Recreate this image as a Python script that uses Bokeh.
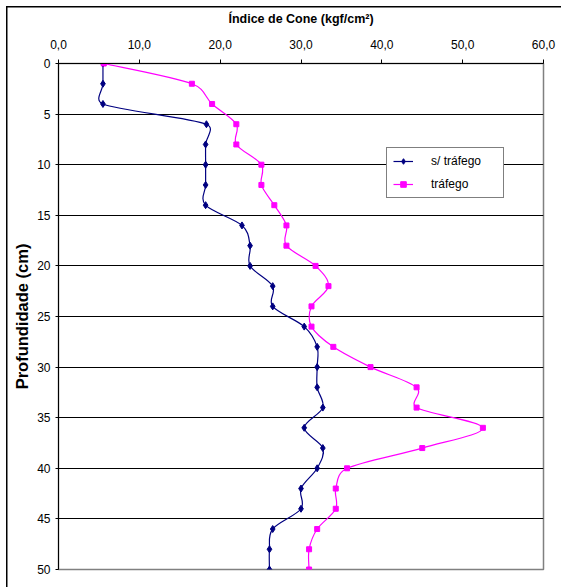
import math
from bokeh.plotting import figure
from bokeh.models import Range1d, FixedTicker, Legend, LegendItem, ColumnDataSource
from bokeh.embed import file_html
from bokeh.resources import INLINE

# ---- data ----
depth = [0, 2, 4, 6, 8, 10, 12, 14, 16, 18, 20, 22, 24, 26, 28, 30, 32, 34, 36, 38, 40, 42, 44, 46, 48, 50]
sem_trafego = [5.5, 5.5, 5.5, 18.3, 18.2, 18.2, 18.2, 18.2, 22.7, 23.7, 23.7, 26.5, 26.5, 30.4, 32.0, 32.0,
               32.0, 32.7, 30.4, 32.7, 32.0, 30.0, 30.0, 26.5, 26.1, 26.1]
trafego = [5.6, 16.5, 19.0, 22.0, 22.0, 25.1, 25.1, 26.7, 28.2, 28.2, 31.8, 33.4, 31.3, 31.3, 34.0, 38.6,
           44.3, 44.3, 52.5, 45.0, 35.7, 34.3, 34.3, 32.0, 31.0, 31.0]
x_ticks = [0, 10, 20, 30, 40, 50, 60]
x_tick_labels = ["0,0", "10,0", "20,0", "30,0", "40,0", "50,0", "60,0"]
y_ticks = [0, 5, 10, 15, 20, 25, 30, 35, 40, 45, 50]
series_names = ["s/ tráfego", "tráfego"]

FONT = "Liberation Sans"
W, H = 561, 587
FL, FR, FT, FB = 58, 543, 63, 569          # frame edges in pixels
SX = (FR - FL) / 60.0                        # px per x unit (for smoothing geometry)
SY = (FB - FT) / 50.0                        # px per y unit


def smooth_segments(xs, ys):
    """Excel-like smoothed line: cubic Bezier segments with limited tangents."""
    n = len(xs)
    px = [x * SX for x in xs]
    py = [y * SY for y in ys]
    out_c, in_c = [], []
    for i in range(n):
        a = max(i - 1, 0)
        b = min(i + 1, n - 1)
        vx, vy = px[b] - px[a], py[b] - py[a]
        d02 = math.hypot(vx, vy)
        d01 = math.hypot(px[i] - px[a], py[i] - py[a])
        d12 = math.hypot(px[b] - px[i], py[b] - py[i])
        if d02 == 0:
            out_c.append((px[i], py[i])); in_c.append((px[i], py[i])); continue
        ux, uy = vx / d02, vy / d02
        lo = min(d02 / 6.0, d12 / 2.0) if i < n - 1 else 0
        li = min(d02 / 6.0, d01 / 2.0) if i > 0 else 0
        out_c.append((px[i] + ux * lo, py[i] + uy * lo))
        in_c.append((px[i] - ux * li, py[i] - uy * li))
    out = dict(x0=[], y0=[], x1=[], y1=[], cx0=[], cy0=[], cx1=[], cy1=[])
    for i in range(n - 1):
        out["x0"].append(xs[i]); out["y0"].append(ys[i])
        out["x1"].append(xs[i + 1]); out["y1"].append(ys[i + 1])
        out["cx0"].append(out_c[i][0] / SX); out["cy0"].append(out_c[i][1] / SY)
        out["cx1"].append(in_c[i + 1][0] / SX); out["cy1"].append(in_c[i + 1][1] / SY)
    return ColumnDataSource(out)


p = figure(width=W, height=H, output_backend="svg", toolbar_location=None,
           x_range=Range1d(0, 60), y_range=Range1d(50, 0),
           x_axis_location="above",
           min_border_left=FL, min_border_right=W - FR,
           min_border_top=FT, min_border_bottom=H - FB)
p.background_fill_color = "white"
p.border_fill_alpha = 0
p.outline_line_color = "#808080"
p.outline_line_width = 1.5
# outer chart border (only its left and top edges fall inside the picture)
p.styles = {
    "background": "linear-gradient(#000, #000) 6px 6px / 1.5px 100% no-repeat, "
                  "linear-gradient(#000, #000) 6px 6px / 100% 1.5px no-repeat, #fff"
}

# axes
xa = p.xaxis[0]
xa.ticker = FixedTicker(ticks=x_ticks)
xa.major_label_overrides = {t: l for t, l in zip(x_ticks, x_tick_labels)}
xa.axis_label = "Índice de Cone (kgf/cm²)"
xa.axis_label_text_font = FONT
xa.axis_label_text_font_style = "bold"
xa.axis_label_text_font_size = "12.5px"
xa.axis_label_text_color = "black"
xa.axis_label_standoff = 11
xa.major_label_text_font = FONT
xa.major_label_text_font_size = "12px"
xa.major_label_text_color = "black"
xa.major_label_standoff = 11
xa.major_tick_in = 0
xa.major_tick_out = 4
xa.minor_tick_in = 0
xa.minor_tick_out = 0
xa.axis_line_color = "black"
xa.major_tick_line_color = "black"

ya = p.yaxis[0]
ya.ticker = FixedTicker(ticks=y_ticks)
ya.axis_label = "Profundidade (cm)"
ya.axis_label_text_font = FONT
ya.axis_label_text_font_style = "bold"
ya.axis_label_text_font_size = "16.5px"
ya.axis_label_text_color = "black"
ya.axis_label_standoff = 3
ya.major_label_text_font = FONT
ya.major_label_text_font_size = "12px"
ya.major_label_text_color = "black"
ya.major_label_standoff = 5
ya.major_tick_in = 0
ya.major_tick_out = 3
ya.minor_tick_in = 0
ya.minor_tick_out = 0
ya.axis_line_color = "black"
ya.major_tick_line_color = "black"

p.xgrid.visible = False
p.ygrid[0].ticker = FixedTicker(ticks=y_ticks[1:-1])
p.ygrid[0].grid_line_color = "black"
p.ygrid[0].grid_line_width = 1

# series
src1 = smooth_segments(sem_trafego, depth)
src2 = smooth_segments(trafego, depth)
b1 = p.bezier(x0="x0", y0="y0", x1="x1", y1="y1", cx0="cx0", cy0="cy0", cx1="cx1", cy1="cy1",
              source=src1, line_color="#000080", line_width=1.2)
m1 = p.scatter(sem_trafego, depth, marker="diamond", size=7, fill_color="#000080", line_color="#000080")
b2 = p.bezier(x0="x0", y0="y0", x1="x1", y1="y1", cx0="cx0", cy0="cy0", cx1="cx1", cy1="cy1",
              source=src2, line_color="#FF00FF", line_width=1.2)
m2 = p.scatter(trafego, depth, marker="square", size=5, fill_color="#FF00FF", line_color="#FF00FF")

legend = Legend(items=[LegendItem(label=series_names[0], renderers=[b1, m1]),
                       LegendItem(label=series_names[1], renderers=[b2, m2])],
                location=(386 - FL, FB - 198))
legend.border_line_color = "black"
legend.border_line_width = 1
legend.background_fill_color = "white"
legend.background_fill_alpha = 1
legend.label_text_font = FONT
legend.label_text_font_size = "12px"
legend.label_text_color = "black"
legend.glyph_width = 20
legend.glyph_height = 14
legend.label_standoff = 18
legend.label_width = 66
legend.padding = 6
legend.spacing = 9
legend.margin = 0
p.add_layout(legend, "center")

open("out.html", "w").write(file_html(p, INLINE))
